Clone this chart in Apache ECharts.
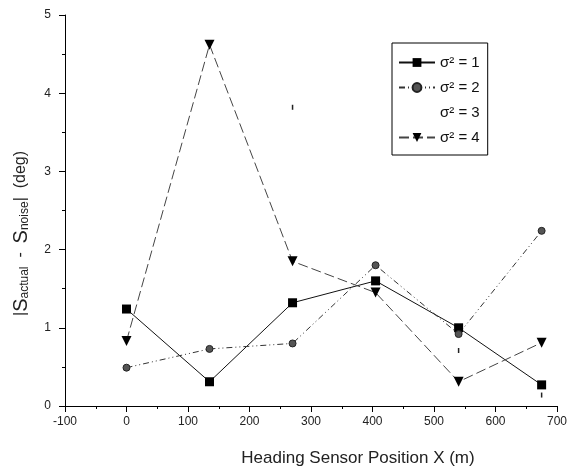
<!DOCTYPE html>
<html>
<head>
<meta charset="utf-8">
<script src="https://cdn.jsdelivr.net/npm/echarts@6/dist/echarts.min.js"></script>
<style>
  html, body { margin: 0; padding: 0; background: #fff; }
  #main { width: 583px; height: 472px; }
</style>
</head>
<body>
<div id="main"></div>
<script>
// sensor positions (m)
var positions = [0, 135, 270, 405, 540, 675];
// |S_actual - S_noise| (deg) for each noise variance
var sigma1 = [1.24, 0.31, 1.32, 1.60, 1.00, 0.27];
var sigma2 = [0.49, 0.73, 0.80, 1.80, 0.92, 2.24];
var sigma3 = [null, null, 3.82, null, 0.71, 0.14];
var sigma4 = [0.83, 4.62, 1.85, 1.45, 0.31, 0.81];
var seriesNames = ["σ² = 1", "σ² = 2", "σ² = 3", "σ² = 4"];

function pairs(vals) {
  return positions.map(function (x, i) {
    return [x, vals[i]];
  });
}

var myChart = echarts.init(document.getElementById("main"));

var option = {
  animation: false,
  textStyle: { fontFamily: "Liberation Sans, Arial, sans-serif" },
  grid: { left: 65, right: 26, top: 15, bottom: 65 },
  legend: {
    orient: "vertical",
    left: 392,
    top: 43,
    width: 101,
    padding: [12, 8, 10, 6],
    itemGap: 10,
    itemWidth: 36,
    itemHeight: 11,
    borderColor: "#000",
    borderWidth: 1,
    textStyle: { fontSize: 15, color: "#111" },
    data: [
      { name: seriesNames[0] },
      { name: seriesNames[1] },
      { name: seriesNames[2], icon: "none" },
      { name: seriesNames[3] },
    ],
  },
  xAxis: {
    type: "value",
    min: -100,
    max: 700,
    interval: 100,
    name: "Heading Sensor Position X (m)",
    nameLocation: "middle",
    nameGap: 44,
    nameTextStyle: { fontSize: 17, color: "#222", padding: [0, 0, 0, 94] },
    axisLine: { onZero: false, lineStyle: { color: "#000", width: 1 } },
    axisTick: { show: true, length: 6, lineStyle: { color: "#000" } },
    minorTick: { show: true, splitNumber: 2, length: 3, lineStyle: { color: "#000" } },
    axisLabel: { fontSize: 12, color: "#222", margin: 10 },
    splitLine: { show: false },
  },
  yAxis: {
    type: "value",
    min: 0,
    max: 5,
    interval: 1,
    name: "|{big|S}{sub|actual}  -  {big|S}{sub|noise}|  (deg)",
    nameLocation: "middle",
    nameGap: 34,
    nameTextStyle: {
      fontSize: 16,
      color: "#222",
      padding: [0, 46, 0, 0],
      rich: {
        big: { fontSize: 20, color: "#222" },
        sub: { fontSize: 12, color: "#222", verticalAlign: "bottom", padding: [8, 0, 0, 0] },
      },
    },
    axisLine: { show: true, onZero: false, lineStyle: { color: "#000", width: 1 } },
    axisTick: { show: true, length: 6, lineStyle: { color: "#000" } },
    minorTick: { show: true, splitNumber: 2, length: 3, lineStyle: { color: "#000" } },
    axisLabel: { fontSize: 12, color: "#222", margin: 14 },
    splitLine: { show: false },
  },
  series: [
    {
      name: seriesNames[0],
      type: "line",
      data: pairs(sigma1),
      symbol: "rect",
      symbolSize: 9,
      itemStyle: { color: "#000" },
      lineStyle: { color: "#111", width: 1 },
    },
    {
      name: seriesNames[1],
      type: "line",
      data: pairs(sigma2),
      symbol: "circle",
      symbolSize: 7,
      itemStyle: { color: "#555", borderColor: "#222", borderWidth: 1 },
      lineStyle: { color: "#333", width: 1, type: [6, 3, 1, 3, 1, 3] },
    },
    {
      name: seriesNames[2],
      type: "line",
      data: pairs(sigma3),
      connectNulls: false,
      symbol: "rect",
      symbolSize: [1.5, 5],
      itemStyle: { color: "#222" },
      lineStyle: { opacity: 0 },
    },
    {
      name: seriesNames[3],
      type: "line",
      data: pairs(sigma4),
      symbol: "triangle",
      symbolRotate: 180,
      symbolSize: 10,
      itemStyle: { color: "#000" },
      lineStyle: { color: "#444", width: 1, type: [10, 4] },
    },
  ],
};
myChart.setOption(option);
</script>
</body>
</html>
